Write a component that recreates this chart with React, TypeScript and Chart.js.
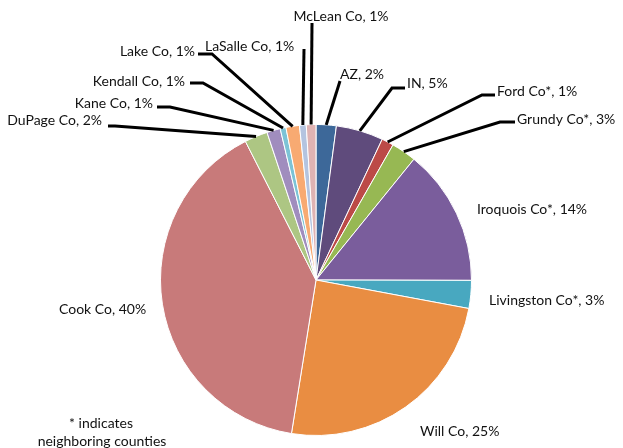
import React, { useEffect, useRef } from "react";
import { Chart, registerables } from "chart.js";

Chart.register(...registerables);

// ---- data ----
const categories = [
  "AZ", "IN", "Ford Co*", "Grundy Co*", "Iroquois Co*", "Livingston Co*", "Will Co",
  "Cook Co", "DuPage Co", "Kane Co", "Kendall Co", "Lake Co", "LaSalle Co", "McLean Co",
];
const shares = [2.1, 4.9, 1.25, 2.6, 14.2, 2.9, 24.6, 40, 2.4, 1.4, 0.6, 1.4, 0.7, 1.0];
const colors = [
  "#3D6899", "#5F4B7C", "#BC4A47", "#97B853", "#7A5D9C", "#48A8C0", "#E98D42",
  "#C87A7A", "#ADC683", "#A08DBE", "#7CC3D6", "#F8AA72", "#B4C4E0", "#DFB3B3",
];
const footnote = ["* indicates", "neighboring counties"];

// ---- label layout (text anchor, alignment, optional leader start/elbow) ----
type LabelLayout = { x: number; y: number; align: CanvasTextAlign; leader?: number[][] };
const labelLayout: LabelLayout[] = [
  { x: 340, y: 74, align: "left", leader: [[340, 81]] },                 // AZ
  { x: 407, y: 83, align: "left", leader: [[405, 88], [392, 88]] },       // IN
  { x: 497, y: 91, align: "left", leader: [[495, 95], [482, 95]] },       // Ford
  { x: 517, y: 119, align: "left", leader: [[515, 122], [500, 122]] },    // Grundy
  { x: 477, y: 209, align: "left" },                                      // Iroquois
  { x: 489, y: 300, align: "left" },                                      // Livingston
  { x: 420, y: 431, align: "left" },                                      // Will
  { x: 59, y: 309, align: "left" },                                       // Cook
  { x: 102, y: 120, align: "right", leader: [[108, 126], [115, 126]] },   // DuPage
  { x: 153, y: 103, align: "right", leader: [[157, 107], [170, 107]] },   // Kane
  { x: 185, y: 81, align: "right", leader: [[190, 83], [203, 83]] },      // Kendall
  { x: 195, y: 51, align: "right", leader: [[198, 54], [212, 54]] },      // Lake
  { x: 205, y: 46, align: "left", leader: [[304, 49]] },                  // LaSalle
  { x: 341, y: 16, align: "center", leader: [[312, 23]] },                // McLean
];

const FONT = "14px Lato, 'Open Sans', sans-serif";

const labelPlugin = {
  id: "pieLabels",
  afterDraw(chart: any) {
    const ctx: CanvasRenderingContext2D = chart.ctx;
    const meta = chart.getDatasetMeta(0);
    const data: number[] = chart.data.datasets[0].data;
    const total = data.reduce((a, b) => a + b, 0);
    ctx.save();
    meta.data.forEach((el: any, i: number) => {
      const p = el.getProps(["x", "y", "startAngle", "endAngle", "outerRadius"], true);
      const mid = (p.startAngle + p.endAngle) / 2;
      const ax = p.x + Math.cos(mid) * p.outerRadius;
      const ay = p.y + Math.sin(mid) * p.outerRadius;
      const lay = labelLayout[i];
      if (lay.leader) {
        ctx.beginPath();
        ctx.strokeStyle = "#000";
        ctx.lineWidth = 3;
        ctx.lineJoin = "miter";
        ctx.moveTo(lay.leader[0][0], lay.leader[0][1]);
        for (let k = 1; k < lay.leader.length; k++) ctx.lineTo(lay.leader[k][0], lay.leader[k][1]);
        ctx.lineTo(ax, ay);
        ctx.stroke();
      }
      const pct = Math.round((data[i] / total) * 100);
      ctx.font = FONT;
      ctx.fillStyle = "#111111";
      ctx.textAlign = lay.align;
      ctx.textBaseline = "middle";
      ctx.fillText(`${categories[i]}, ${pct}%`, lay.x, lay.y);
    });
    ctx.textAlign = "center";
    ctx.fillText(footnote[0], 101, 423);
    ctx.fillText(footnote[1], 102, 441);
    ctx.restore();
  },
};

export default function App() {
  const ref = useRef<HTMLCanvasElement | null>(null);
  useEffect(() => {
    if (!ref.current) return;
    const chart = new Chart(ref.current, {
      type: "pie",
      data: {
        labels: categories,
        datasets: [
          {
            data: shares,
            backgroundColor: colors,
            borderColor: "#ffffff",
            borderWidth: 1,
          },
        ],
      },
      options: {
        responsive: false,
        animation: false,
        layout: { padding: { left: 160, right: 151, top: 124, bottom: 12 } },
        plugins: {
          legend: { display: false },
          tooltip: { enabled: false },
        },
      },
      plugins: [labelPlugin],
    });
    return () => chart.destroy();
  }, []);
  return (
    <div style={{ position: "fixed", left: 0, top: 0, width: 623, height: 448, background: "#fff" }}>
      <canvas ref={ref} width={623} height={448} style={{ display: "block" }} />
    </div>
  );
}
